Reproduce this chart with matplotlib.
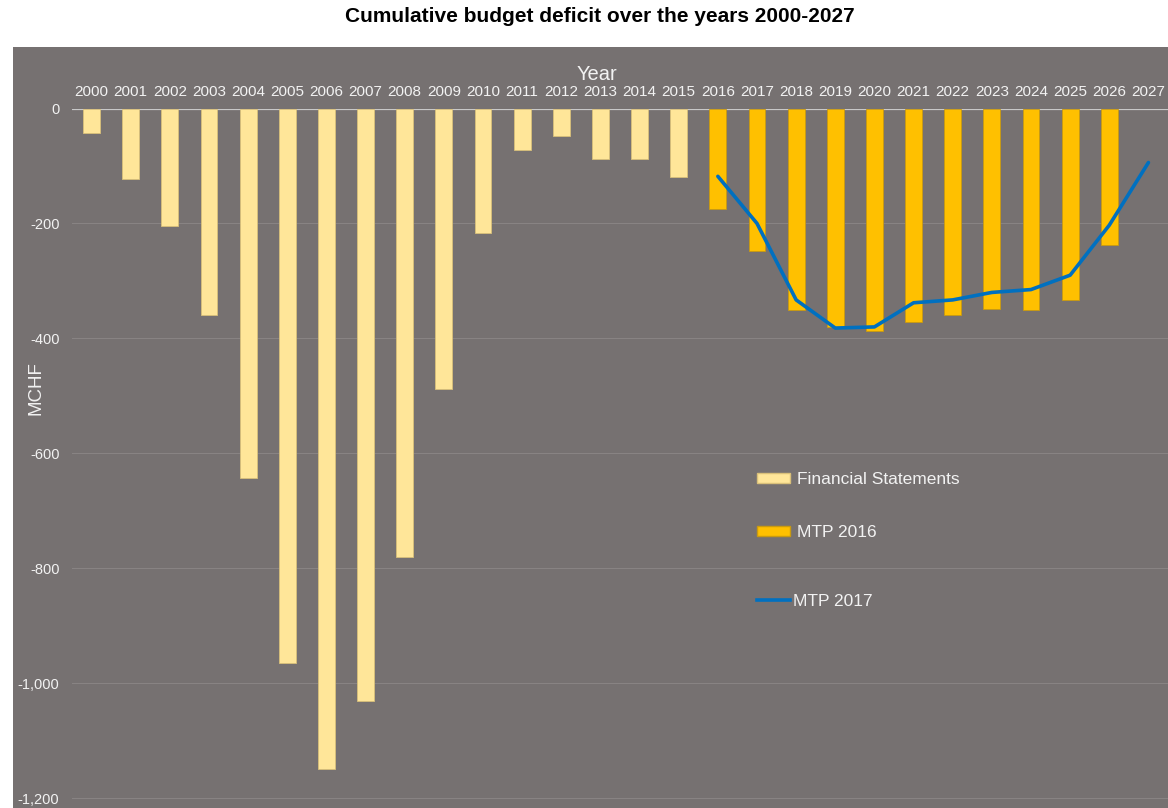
import numpy as np
import matplotlib
matplotlib.use("Agg")
import matplotlib.pyplot as plt
from matplotlib.patches import Rectangle, Patch
from matplotlib.lines import Line2D
from matplotlib.ticker import FuncFormatter

plt.rcParams['font.family'] = ['Liberation Sans', 'DejaVu Sans']

# -------------------- DATA --------------------
years = list(range(2000, 2028))

# financial statements (actuals), 2000-2015
fs_years = list(range(2000, 2016))
fs_values = [-42, -123, -205, -360, -643, -965, -1150, -1030,
             -780, -488, -217, -72, -48, -88, -88, -120]

# MTP 2016 projection, 2016-2026
mtp16_years = list(range(2016, 2027))
mtp16_values = [-174, -248, -350, -380, -387, -372, -359, -349, -350, -333, -238]

# MTP 2017 projection, 2016-2027
mtp17_years = list(range(2016, 2028))
mtp17_values = [-118, -200, -333, -382, -380, -338, -333, -320, -315, -290, -203, -94]

# -------------------- STYLE --------------------
bg = '#767171'
txt = '#f2f2f2'
c_fs = '#FFE699'
c_16 = '#FFC000'
c_17 = '#0070C0'

W, H = 1168, 808
fig = plt.figure(figsize=(W / 100, H / 100), dpi=100)
fig.patch.set_facecolor('white')
fig.patches.append(Rectangle((13 / W, 0), 1 - 13 / W, 1 - 47 / H,
                             transform=fig.transFigure, facecolor=bg,
                             edgecolor='none', zorder=-5))

ax = fig.add_axes([72 / W, 0, 1 - 72 / W, 1 - 108.5 / H])
ax.set_facecolor('none')
ax.set_zorder(2)

def pos(yrs):
    return [years.index(y) for y in yrs]

bw = 0.43
ax.bar(pos(fs_years), fs_values, width=bw, color=c_fs, edgecolor='#d9c07a',
       linewidth=0.6, zorder=3)
ax.bar(pos(mtp16_years), mtp16_values, width=bw, color=c_16, edgecolor='#c99a10',
       linewidth=0.6, zorder=3)
ax.plot(pos(mtp17_years), mtp17_values, color=c_17, lw=2.6, zorder=4,
        solid_capstyle='round', solid_joinstyle='round')

ax.set_xlim(-0.5, len(years) - 0.5)
ax.set_ylim(-1217, 0)

# x axis on top
ax.xaxis.tick_top()
ax.set_xticks(range(len(years)))
ax.set_xticklabels([str(y) for y in years], fontsize=11, color=txt)
ax.tick_params(axis='x', length=0, pad=7)
ax.xaxis.set_label_position('top')
ax.set_xlabel('Year', fontsize=14.5, color=txt)
ax.xaxis.set_label_coords((597 - 72) / (W - 72), 1 + 29 / 699.5)

ax.set_yticks(np.arange(-1200, 1, 200))
ax.yaxis.set_major_formatter(FuncFormatter(lambda v, p: f'{int(v):,}'))
ax.tick_params(axis='y', length=0, pad=9, labelsize=10.5, labelcolor=txt)
ax.set_ylabel('MCHF', fontsize=13.5, color=txt)
ax.yaxis.set_label_coords(-(72 - 44) / (W - 72), 0.6)

ax.grid(axis='y', color='#888383', lw=0.8, zorder=1)
ax.axhline(0, color='#c8c8c8', lw=1.6, zorder=2)
for s in ax.spines.values():
    s.set_visible(False)

# legend: bars in one block, line set a bit lower
bar_handles = [Patch(facecolor=c_fs, edgecolor='#d9c07a'),
               Patch(facecolor=c_16, edgecolor='#c99a10')]
leg1 = ax.legend(bar_handles, ['Financial Statements', 'MTP 2016'], loc='center left',
                 bbox_to_anchor=(741 / W, 1 - 506 / H), bbox_transform=fig.transFigure,
                 frameon=False, fontsize=12.5, labelcolor=txt,
                 labelspacing=2.2, handlelength=1.9, handleheight=0.5,
                 handletextpad=0.4)
ax.add_artist(leg1)
ax.legend([Line2D([], [], color=c_17, lw=2.6)], ['MTP 2017'], loc='center left',
          bbox_to_anchor=(741 / W, 1 - 601 / H), bbox_transform=fig.transFigure,
          frameon=False, fontsize=12.5, labelcolor=txt,
          handlelength=1.9, handletextpad=0.2)

fig.text(600 / W, 1 - 17 / H, 'Cumulative budget deficit over the years 2000-2027',
         ha='center', va='center', fontsize=15, fontweight='bold', color='black')

fig.savefig('out.png', dpi=100, facecolor=fig.get_facecolor())
